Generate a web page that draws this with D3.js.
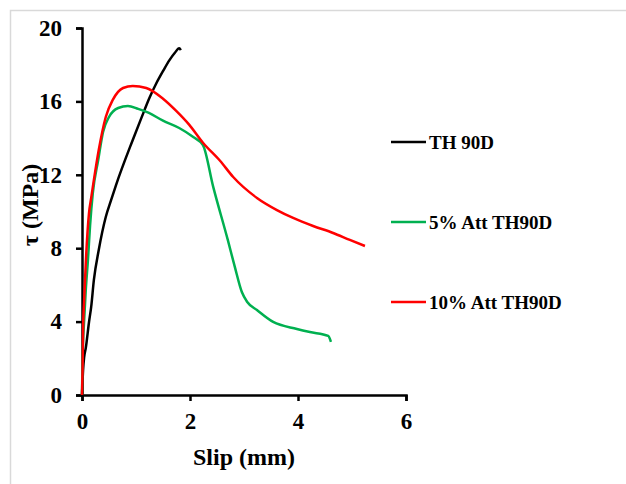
<!DOCTYPE html>
<meta charset="utf-8" />
<style>
    body {
        margin: 0;
        background: #fff;
    }

    text {
        font-family: 'Liberation Serif', 'Times New Roman', serif;
        font-weight: bold;
        fill: #000;
    }

    .axis path,
    .axis line {
        stroke: #000;
        stroke-width: 2.5px;
    }

    .series {
        fill: none;
        stroke-width: 2.5px;
        stroke-linejoin: round;
    }
</style>

<svg width="626" height="484"></svg>

<script src="https://d3js.org/d3.v7.min.js"></script>
<script>
    // slip (mm) / tau (MPa)
    const th90dSlip = [0, 0.02, 0.04, 0.07, 0.13, 0.17, 0.22, 0.31, 0.44, 0.54, 0.63, 0.94, 1.1, 1.25, 1.37, 1.5, 1.62, 1.72, 1.8, 1.83];
    const th90dTau = [0, 1.36, 2.07, 2.56, 3.98, 4.8, 6.27, 7.9, 9.7, 10.63, 11.44, 13.9, 15.1, 16.2, 16.95, 17.65, 18.25, 18.65, 18.9, 18.8];

    const att5Slip = [0, 0.01, 0.04, 0.07, 0.11, 0.15, 0.2, 0.3, 0.39, 0.5, 0.67, 0.85, 1.04, 1.24, 1.5, 1.8, 2.06, 2.24, 2.43, 2.7, 2.83, 2.96, 3.06, 3.24, 3.54, 3.98, 4.22, 4.56, 4.61];
    const att5Tau = [0, 1.9, 4.09, 5.72, 7.36, 9.26, 11.0, 12.8, 14.33, 15.15, 15.64, 15.75, 15.59, 15.37, 14.95, 14.55, 14.06, 13.62, 11.34, 8.45, 6.98, 5.61, 5.07, 4.63, 3.98, 3.6, 3.43, 3.22, 2.89];

    const att10Slip = [0, 0.01, 0.02, 0.04, 0.07, 0.13, 0.17, 0.22, 0.31, 0.44, 0.57, 0.76, 0.94, 1.19, 1.5, 1.74, 1.98, 2.24, 2.56, 2.8, 3.24, 3.61, 3.91, 4.28, 4.65, 4.96, 5.24];
    const att10Tau = [0, 1.36, 3.54, 5.18, 7.19, 9.92, 10.74, 11.72, 13.35, 15.15, 16.08, 16.73, 16.84, 16.73, 16.15, 15.5, 14.75, 13.75, 12.75, 11.88, 10.74, 10.08, 9.65, 9.21, 8.83, 8.45, 8.12];

    const seriesNames = ['TH 90D', '5% Att TH90D', '10% Att TH90D'];
    const seriesColors = ['#000000', '#00b050', '#ff0000'];
    const xTicks = [0, 2, 4, 6];
    const yTicks = [0, 4, 8, 12, 16, 20];

    const series = [
        { name: seriesNames[0], color: seriesColors[0], pts: th90dSlip.map((s, i) => [s, th90dTau[i]]) },
        { name: seriesNames[1], color: seriesColors[1], pts: att5Slip.map((s, i) => [s, att5Tau[i]]) },
        { name: seriesNames[2], color: seriesColors[2], pts: att10Slip.map((s, i) => [s, att10Tau[i]]) },
    ];

    const svg = d3.select('svg');

    // light frame of the original figure
    svg.append('path')
        .attr('d', 'M10.5,484 V10.5 H626')
        .attr('fill', 'none')
        .attr('stroke', '#d9d9d9')
        .attr('stroke-width', 1.5);

    const x = d3.scaleLinear().domain([0, 6]).range([82, 406]);
    const y = d3.scaleLinear().domain([0, 20]).range([395, 28]);

    svg.append('g')
        .attr('class', 'axis')
        .attr('transform', 'translate(0,395)')
        .call(d3.axisBottom(x).tickValues(xTicks).tickFormat(d3.format('d')).tickSize(6).tickSizeOuter(6).tickPadding(12))
        .selectAll('text')
        .style('font-size', '23px');

    svg.append('g')
        .attr('class', 'axis')
        .attr('transform', 'translate(82,0)')
        .call(d3.axisLeft(y).tickValues(yTicks).tickFormat(d3.format('d')).tickSize(6).tickSizeOuter(6).tickPadding(14))
        .selectAll('text')
        .style('font-size', '23px');

    const line = d3
        .line()
        .x(d => x(d[0]))
        .y(d => y(d[1]))
        .curve(d3.curveMonotoneX);

    svg.selectAll('.series')
        .data(series)
        .enter()
        .append('path')
        .attr('class', 'series')
        .attr('stroke', d => d.color)
        .attr('d', d => line(d.pts));

    // axis titles
    svg.append('text')
        .attr('x', 244)
        .attr('y', 465)
        .attr('text-anchor', 'middle')
        .style('font-size', '24px')
        .text('Slip (mm)');

    svg.append('text')
        .attr('transform', 'translate(38,205) rotate(-90)')
        .attr('text-anchor', 'middle')
        .style('font-size', '24px')
        .text('τ (MPa)');

    // legend
    const legend = svg.selectAll('.legend')
        .data(series)
        .enter()
        .append('g')
        .attr('class', 'legend')
        .attr('transform', (d, i) => `translate(391,${142 + i * 80})`);

    legend.append('line')
        .attr('x1', 0)
        .attr('x2', 35)
        .attr('stroke', d => d.color)
        .attr('stroke-width', 2.5);

    legend.append('text')
        .attr('x', 38)
        .attr('dy', '0.35em')
        .style('font-size', '19px')
        .text(d => d.name);
</script>
